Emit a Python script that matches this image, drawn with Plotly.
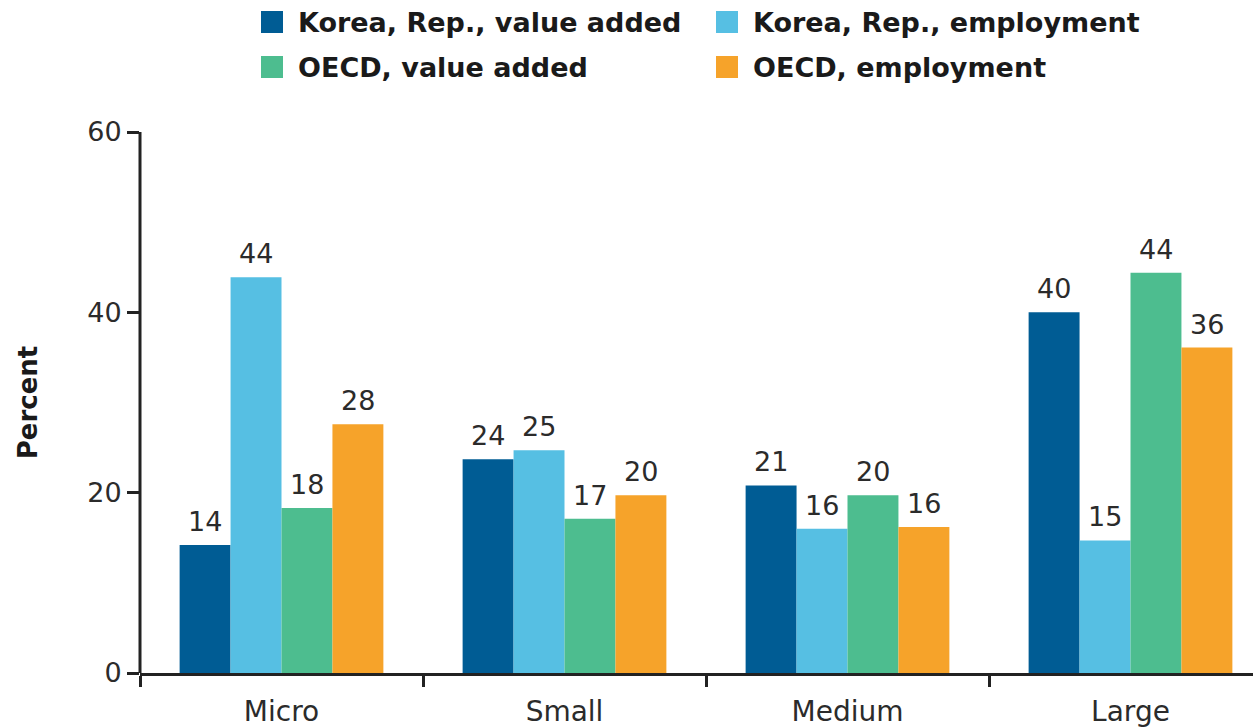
import plotly.graph_objects as go

categories = ["Micro", "Small", "Medium", "Large"]
series_names = ["Korea, Rep., value added", "Korea, Rep., employment",
                "OECD, value added", "OECD, employment"]
korea_va = [14.2, 23.7, 20.8, 40.0]
korea_emp = [43.9, 24.7, 16.0, 14.7]
oecd_va = [18.3, 17.1, 19.7, 44.4]
oecd_emp = [27.6, 19.7, 16.2, 36.1]
labels_korea_va = ["14", "24", "21", "40"]
labels_korea_emp = ["44", "25", "16", "15"]
labels_oecd_va = ["18", "17", "20", "44"]
labels_oecd_emp = ["28", "20", "16", "36"]
y_ticks = [0, 20, 40, 60]

colors = ["#005C94", "#56BFE3", "#4DBD8F", "#F6A32A"]
values = [korea_va, korea_emp, oecd_va, oecd_emp]
labels = [labels_korea_va, labels_korea_emp, labels_oecd_va, labels_oecd_emp]

NUM_FONT = "DejaVu Sans"
TXT = "#2b2b2b"
BARGAP = 0.28
n_series = len(values)
bar_w = (1 - BARGAP) / n_series

fig = go.Figure()
for name, vals, col in zip(series_names, values, colors):
    fig.add_trace(go.Bar(
        x=categories, y=vals, name=name, marker=dict(color=col, line=dict(width=0)),
        showlegend=False, hoverinfo="x+y+name",
    ))

# value labels above bars
for i, (vals, lab) in enumerate(zip(values, labels)):
    for j, (v, t) in enumerate(zip(vals, lab)):
        fig.add_annotation(x=j + (i - (n_series - 1) / 2) * bar_w, y=v, xref="x", yref="y",
                           text=t, showarrow=False, yanchor="bottom", yshift=6,
                           font=dict(family=NUM_FONT, size=27, color=TXT))

W, H = 1253, 728
L, R, T, B = 140, 0, 132, 55

fig.update_layout(
    width=W, height=H,
    margin=dict(l=L, r=R, t=T, b=B, pad=0),
    paper_bgcolor="white", plot_bgcolor="white",
    barmode="group", bargap=BARGAP, bargroupgap=0,
)
fig.update_xaxes(
    range=[-0.5, -0.5 + (W - L) / 283.0],
    showline=True, linecolor="#222222", linewidth=3,
    ticks="outside", tickson="boundaries", ticklen=11, tickwidth=3, tickcolor="#222222",
    ticklabelstandoff=11,
    tickfont=dict(family=NUM_FONT, size=28, color=TXT),
    showgrid=False, zeroline=False, automargin=False,
)
fig.update_yaxes(
    range=[0, 60], tickvals=y_ticks,
    showline=False, ticks="outside", ticklen=12, tickwidth=3, tickcolor="#222222",
    tickfont=dict(family=NUM_FONT, size=27, color=TXT),
    showgrid=False, zeroline=False, automargin=False,
    title=dict(text="<b>Percent</b>", font=dict(family="DejaVu Sans", size=26, color="#1a1a1a"), standoff=42),
)
# y axis line extending slightly below zero
fig.add_shape(type="line", xref="paper", yref="y", x0=0, x1=0, y0=-1.2, y1=60,
              line=dict(color="#222222", width=3))

# manual legend
legend_items = [
    (series_names[0], colors[0], 261, 22),
    (series_names[1], colors[1], 716, 22),
    (series_names[2], colors[2], 261, 67),
    (series_names[3], colors[3], 716, 67),
]
PW = W - L - R
PH = H - T - B
for name, col, px, py in legend_items:
    fig.add_shape(type="rect", xref="paper", yref="paper",
                  x0=(px - L) / PW, x1=(px + 22 - L) / PW,
                  y0=(H - B - (py + 11)) / PH, y1=(H - B - (py - 11)) / PH,
                  fillcolor=col, line=dict(width=0))
    fig.add_annotation(xref="paper", yref="paper",
                       x=(px + 35 - L) / PW, y=(H - B - py) / PH,
                       xanchor="left", yanchor="middle", showarrow=False,
                       text="<b>" + name + "</b>",
                       font=dict(family="DejaVu Sans", size=27, color="#1a1a1a"))

fig.write_html("out.html", config={"displayModeBar": False},
               post_script="document.body.style.margin='0';document.body.style.padding='0';")
